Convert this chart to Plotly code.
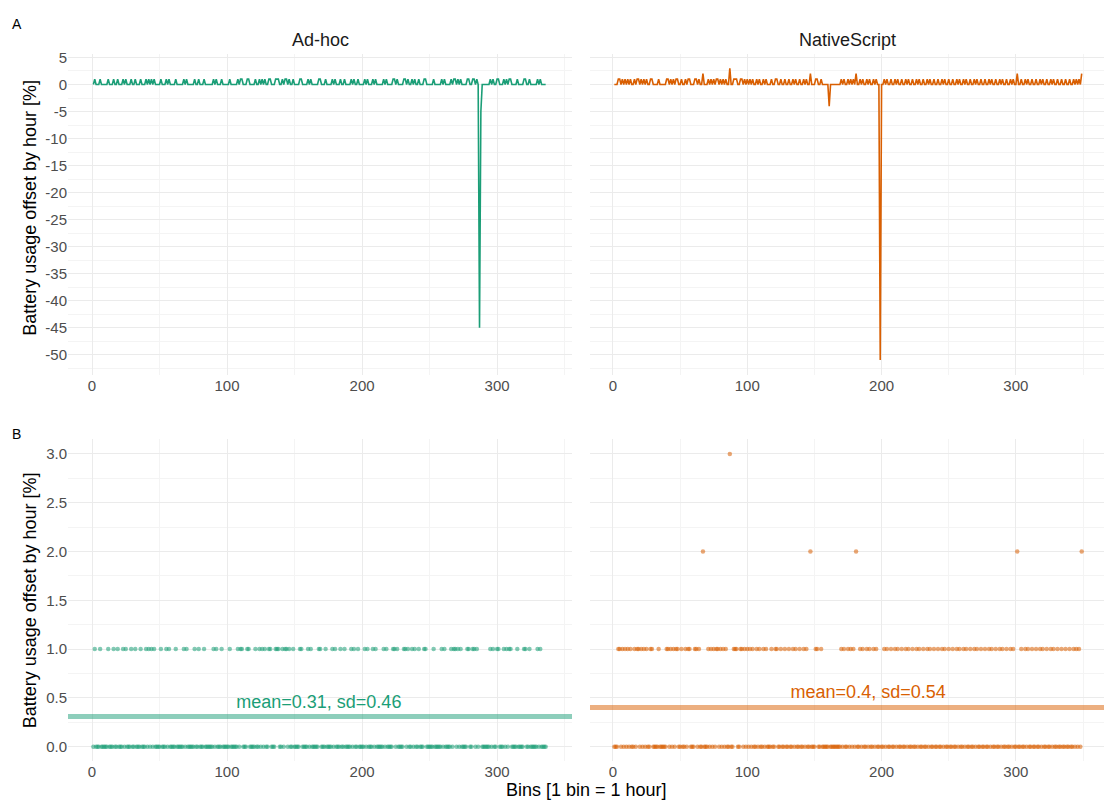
import plotly.graph_objects as go

# ---------------- data ----------------
adhoc_bins_last = 336
adhoc_ones = [2, 6, 12, 16, 19, 23, 25, 29, 32, 36, 40, 42, 44, 46, 51, 55, 57, 62, 68, 70, 76, 79, 83,
              90, 92, 96, 102, 108, 110,
              111, 115, 116, 121, 124, 126, 128, 131, 132, 136, 137, 138, 141, 143, 144, 146, 149, 154,
              155, 160, 162, 168, 169, 173, 178, 180, 184, 187, 192, 194, 197, 202, 204, 208, 210, 216,
              218, 223, 224,
              226, 231, 232, 234, 237, 239, 242, 246, 247, 253, 259, 261, 266, 268, 269, 271, 273, 278,
              279, 282, 283, 285, 295, 297, 300, 301, 305, 307, 309, 310, 315, 320, 321, 324, 330, 332]
adhoc_special = {287: -45, 288: -5}

native_bins_last = 349
native_ones = [4, 5, 7, 9, 11, 13, 16, 18, 19, 21, 23, 25, 28, 29, 34, 40, 41, 43, 45, 47, 48, 51, 54,
               56, 57, 61, 62, 64, 71, 73, 75, 77, 78, 80, 82, 84, 90, 91, 92, 95, 96, 98, 100, 102, 104,
               107, 109, 112, 114, 118, 121,
               122, 125, 128, 131, 134, 136, 139, 142, 144, 151, 152, 155,
               170, 172, 175, 177, 179, 184, 186, 189, 191, 194, 196,
               202, 204, 207, 210, 212, 215, 218, 220, 223, 226, 228, 231, 234, 236, 239, 242, 245, 247,
               250, 253, 256, 258, 261, 263, 266, 269, 271, 274, 277, 280, 282, 285, 288, 290, 293, 296,
               298, 304, 307, 309, 312, 315, 318, 320, 323, 326, 328, 331, 334, 337, 340, 343, 345, 347]
native_special = {67: 2, 87: 3, 147: 2, 161: -4, 181: 2, 199: -51, 301: 2, 349: 2}

adhoc_mean, adhoc_sd = 0.31, 0.46
native_mean, native_sd = 0.40, 0.54

x_ticks = [0, 100, 200, 300]
top_y_ticks = list(range(5, -55, -5))
bottom_y_ticks = [0.0, 0.5, 1.0, 1.5, 2.0, 2.5, 3.0]

GREEN = "#1B9E77"
ORANGE = "#D95F02"


def series(last, ones, special):
    ones_set = set(ones)
    xs = list(range(1, last + 1))
    ys = [special.get(b, 1 if b in ones_set else 0) for b in xs]
    return xs, ys


ax, ay = series(adhoc_bins_last, adhoc_ones, adhoc_special)
nx, ny = series(native_bins_last, native_ones, native_special)

# non-negative offsets for the lower row
apx = [x for x, y in zip(ax, ay) if y >= 0]
apy = [y for y in ay if y >= 0]
npx = [x for x, y in zip(nx, ny) if y >= 0]
npy = [y for y in ny if y >= 0]

W, H = 1104, 803
FONT = "Liberation Sans, Arial, sans-serif"
GRID = "#EBEBEB"
MINOR = "#F4F4F4"
TICKC = "#4D4D4D"
TICKSIZE = 15
TITLESIZE = 18

fig = go.Figure()

# top row lines
fig.add_trace(go.Scatter(x=ax, y=ay, mode="lines", line=dict(color=GREEN, width=1.6),
                         xaxis="x", yaxis="y", showlegend=False))
fig.add_trace(go.Scatter(x=nx, y=ny, mode="lines", line=dict(color=ORANGE, width=1.6),
                         xaxis="x2", yaxis="y2", showlegend=False))

# bottom row: mean lines
fig.add_trace(go.Scatter(x=[-30, 400], y=[adhoc_mean, adhoc_mean], mode="lines",
                         line=dict(color="rgba(27,158,119,0.5)", width=5),
                         xaxis="x3", yaxis="y3", showlegend=False))
fig.add_trace(go.Scatter(x=[-30, 400], y=[native_mean, native_mean], mode="lines",
                         line=dict(color="rgba(217,95,2,0.5)", width=5),
                         xaxis="x4", yaxis="y4", showlegend=False))

# bottom row points
fig.add_trace(go.Scatter(x=apx, y=apy, mode="markers",
                         marker=dict(color="rgba(27,158,119,0.55)", size=4.5, line=dict(width=0)),
                         xaxis="x3", yaxis="y3", showlegend=False))
fig.add_trace(go.Scatter(x=npx, y=npy, mode="markers",
                         marker=dict(color="rgba(217,95,2,0.55)", size=4.5, line=dict(width=0)),
                         xaxis="x4", yaxis="y4", showlegend=False))

# mean labels
fig.add_trace(go.Scatter(x=[168], y=[adhoc_mean + 0.13], mode="text",
                         text=[f"mean={adhoc_mean:.2f}, sd={adhoc_sd:.2f}"],
                         textfont=dict(color=GREEN, size=TITLESIZE, family=FONT),
                         xaxis="x3", yaxis="y3", showlegend=False))
fig.add_trace(go.Scatter(x=[190], y=[native_mean + 0.14], mode="text",
                         text=[f"mean={native_mean:.1f}, sd={native_sd:.2f}"],
                         textfont=dict(color=ORANGE, size=TITLESIZE, family=FONT),
                         xaxis="x4", yaxis="y4", showlegend=False))

left_dom = [68 / W, 572 / W]
right_dom = [590 / W, 1.0]
top_dom = [1 - 372 / H, 1 - 49 / H]
bot_dom = [1 - 761 / H, 1 - 437 / H]

xa_range = [-17.8, 355.5]
xb_range = [-17.1, 365.6]


def xaxis(dom, rng, anchor):
    return dict(domain=dom, range=rng, anchor=anchor, tickvals=x_ticks,
                showgrid=True, gridcolor=GRID, gridwidth=1, zeroline=False,
                showline=False, ticks="", tickfont=dict(size=TICKSIZE, color=TICKC, family=FONT),
                minor=dict(dtick=50, tick0=0, showgrid=True, gridcolor=MINOR, gridwidth=1))


def yaxis(dom, rng, anchor, ticks, labels, show, minor_dtick):
    return dict(domain=dom, range=rng, anchor=anchor, tickvals=ticks, ticktext=labels,
                showticklabels=show, showgrid=True, gridcolor=GRID, gridwidth=1, zeroline=False,
                showline=False, ticks="", tickfont=dict(size=TICKSIZE, color=TICKC, family=FONT),
                minor=dict(dtick=minor_dtick, tick0=0, showgrid=True, gridcolor=MINOR, gridwidth=1))


top_labels = [str(t) for t in top_y_ticks]
bot_labels = [f"{t:.1f}" for t in bottom_y_ticks]

fig.update_layout(
    width=W, height=H,
    margin=dict(l=0, r=0, t=0, b=0),
    paper_bgcolor="white", plot_bgcolor="white",
    font=dict(family=FONT),
    xaxis=xaxis(left_dom, xa_range, "y"),
    xaxis2=xaxis(right_dom, xb_range, "y2"),
    xaxis3=xaxis(left_dom, xa_range, "y3"),
    xaxis4=xaxis(right_dom, xb_range, "y4"),
    yaxis=yaxis(top_dom, [-53.7, 5.7], "x", top_y_ticks, top_labels, True, 2.5),
    yaxis2=yaxis(top_dom, [-53.7, 5.7], "x2", top_y_ticks, top_labels, False, 2.5),
    yaxis3=yaxis(bot_dom, [-0.15, 3.15], "x3", bottom_y_ticks, bot_labels, True, 0.25),
    yaxis4=yaxis(bot_dom, [-0.15, 3.15], "x4", bottom_y_ticks, bot_labels, False, 0.25),
    annotations=[
        dict(text="A", x=10 / W, y=1 - 19 / H, xref="paper", yref="paper", showarrow=False,
             xanchor="left", yanchor="middle", font=dict(size=14, color="black")),
        dict(text="B", x=10 / W, y=1 - 432 / H, xref="paper", yref="paper", showarrow=False,
             xanchor="left", yanchor="middle", font=dict(size=14, color="black")),
        dict(text="Ad-hoc", x=(left_dom[0] + left_dom[1]) / 2, y=1 - 35 / H, xref="paper", yref="paper",
             showarrow=False, xanchor="center", yanchor="middle",
             font=dict(size=TITLESIZE, color="#1A1A1A")),
        dict(text="NativeScript", x=(right_dom[0] + right_dom[1]) / 2, y=1 - 35 / H, xref="paper",
             yref="paper", showarrow=False, xanchor="center", yanchor="middle",
             font=dict(size=TITLESIZE, color="#1A1A1A")),
        dict(text="Battery usage offset by hour [%]", x=30 / W, y=1 - 204 / H, xref="paper", yref="paper",
             showarrow=False, textangle=-90, xanchor="center", yanchor="middle",
             font=dict(size=TITLESIZE, color="black")),
        dict(text="Battery usage offset by hour [%]", x=30 / W, y=1 - 599 / H, xref="paper", yref="paper",
             showarrow=False, textangle=-90, xanchor="center", yanchor="middle",
             font=dict(size=TITLESIZE, color="black")),
        dict(text="Bins [1 bin = 1 hour]", x=586 / W, y=1 - 790 / H, xref="paper", yref="paper",
             showarrow=False, xanchor="center", yanchor="middle",
             font=dict(size=TITLESIZE, color="black")),
    ],
)

fig.write_html("out.html",
               config={"displayModeBar": False},
               post_script="document.body.style.margin='0px';document.body.style.overflow='hidden';")
